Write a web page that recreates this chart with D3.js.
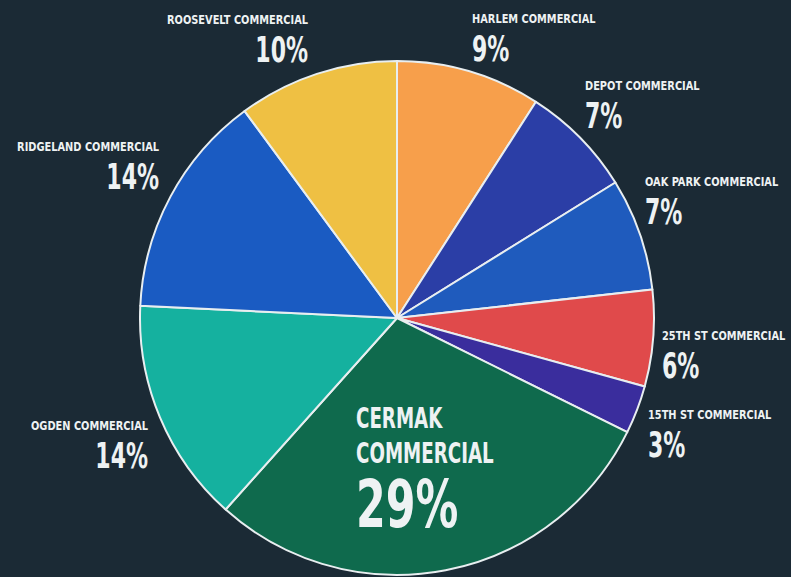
<!DOCTYPE html>
<html>
<head>
<meta charset="utf-8">
<script src="https://cdn.jsdelivr.net/npm/d3@7"></script>
<style>
  html, body { margin: 0; padding: 0; background: #1b2a35; }
  svg { display: block; }
  text { font-family: "DejaVu Sans Condensed", "Liberation Sans Narrow", sans-serif; font-weight: bold; fill: #eef2f3; }
</style>
</head>
<body>
<svg id="chart" width="791" height="577"></svg>
<script>
// Share of commercial district area, clockwise from 12 o'clock
const districts = ["HARLEM COMMERCIAL", "DEPOT COMMERCIAL", "OAK PARK COMMERCIAL", "25TH ST COMMERCIAL",
                   "15TH ST COMMERCIAL", "CERMAK COMMERCIAL", "OGDEN COMMERCIAL", "RIDGELAND COMMERCIAL",
                   "ROOSEVELT COMMERCIAL"];
const shares = [9, 7, 7, 6, 3, 29, 14, 14, 10];
const colors = ["#f79f4b", "#2b3ea6", "#1f5bbd", "#e04a4b", "#3a2d9d", "#0f6a4d", "#15b19f", "#1a5bc2", "#efc043"];

// Callout placement: [x, name baseline, percent baseline, text-anchor]
const callouts = [
  [472, 23, 61, "start"], [585, 90, 128, "start"], [645, 186, 224, "start"], [662, 340, 378, "start"],
  [648, 419, 457, "start"], null, [148, 430, 468, "end"], [159, 151, 189, "end"], [308, 24, 62, "end"]
];

const svg = d3.select("#chart");
const cx = 397, cy = 318, r = 257;

const data = districts.map((d, i) => ({ name: d, value: shares[i], color: colors[i], i }));
const pie = d3.pie().sort(null).value(d => d.value);
const arc = d3.arc().innerRadius(0).outerRadius(r);

const g = svg.append("g").attr("transform", `translate(${cx},${cy})`);
g.selectAll("path")
  .data(pie(data))
  .join("path")
  .attr("d", arc)
  .attr("fill", d => d.data.color)
  .attr("stroke", "#e8eef0")
  .attr("stroke-width", 2)
  .attr("stroke-linejoin", "round");

// Small callouts outside the pie
data.forEach((d, i) => {
  const c = callouts[i];
  if (!c) return;
  const [x, y1, y2, anchor] = c;
  const t = svg.append("g").attr("transform", `translate(${x},0)`);
  t.append("text")
    .attr("y", y1)
    .attr("text-anchor", anchor)
    .attr("font-size", 13)
    .attr("transform", "scale(0.84,1)")
    .text(d.name);
  t.append("text")
    .attr("y", y2)
    .attr("text-anchor", anchor)
    .attr("font-size", 36)
    .attr("transform", "scale(0.68,1)")
    .text(d.value + "%");
});

// Large label inside the biggest slice
const big = data[5];
const words = big.name.split(" ");
const lg = svg.append("g").attr("transform", "translate(356,0)");
lg.append("text").attr("y", 428).attr("font-size", 29).attr("transform", "scale(0.7,1)").text(words[0]);
lg.append("text").attr("y", 463).attr("font-size", 29).attr("transform", "scale(0.7,1)").text(words[1]);
lg.append("text").attr("y", 527).attr("font-size", 66).attr("transform", "scale(0.72,1)").text(big.value + "%");
</script>
</body>
</html>
